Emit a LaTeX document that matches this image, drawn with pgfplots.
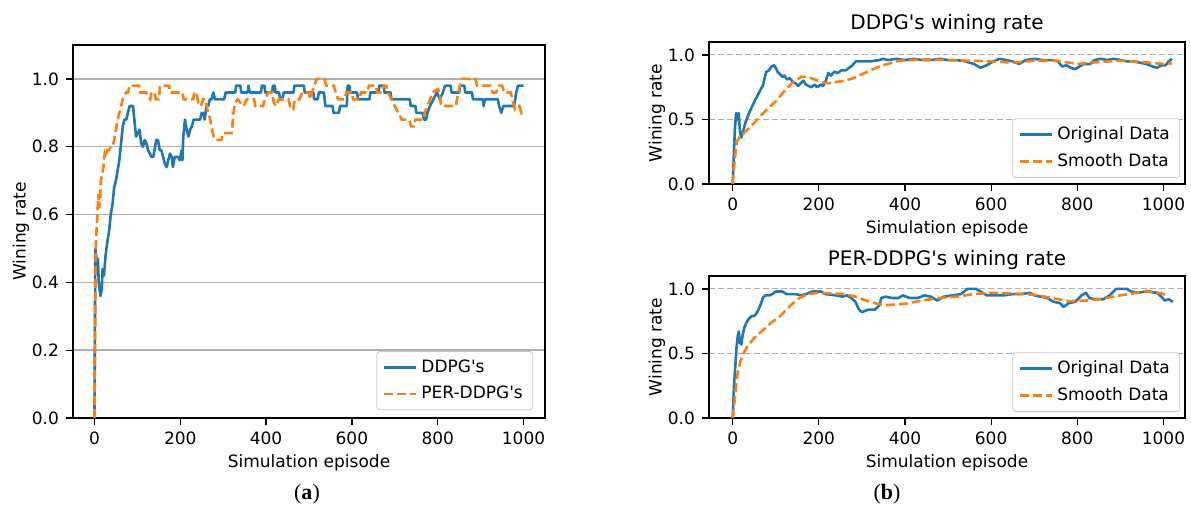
\documentclass[border=0pt]{standalone}
\usepackage{fontspec}
\setmainfont{DejaVu Sans}[Ligatures=TeXOff]
\newfontfamily\serifface{Liberation Serif}
\usepackage{pgfplots}
\pgfplotsset{compat=1.18}
\usepackage{pgfplotstable}
\definecolor{mplblue}{HTML}{1F77B4}
\definecolor{mplorange}{HTML}{FF7F0E}
\definecolor{gridgray}{HTML}{B0B0B0}

\pgfplotstableread{
x y
0 0
2 0.50
4 0.48
6 0.44
8 0.47
10 0.40
14 0.36
17 0.38
19 0.44
22 0.42
26 0.48
30 0.52
34 0.55
38 0.60
42 0.63
46 0.68
50 0.70
54 0.73
58 0.76
62 0.81
66 0.86
70 0.88
74 0.88
78 0.90
82 0.92
90 0.92
93 0.88
97 0.83
101 0.84
105 0.85
109 0.81
113 0.80
117 0.82
121 0.81
125 0.79
129 0.78
133 0.77
137 0.77
140 0.79
144 0.82
148 0.82
152 0.79
156 0.79
160 0.77
164 0.75
168 0.74
172 0.76
176 0.78
180 0.77
183 0.74
187 0.77
195 0.77
199 0.76
203 0.79
205 0.76
207 0.83
211 0.88
215 0.85
219 0.83
223 0.85
227 0.86
231 0.88
246 0.88
250 0.90
254 0.90
257 0.88
261 0.92
265 0.92
269 0.94
273 0.94
277 0.96
281 0.94
302 0.94
306 0.96
328 0.96
330 0.98
340 0.98
342 0.96
357 0.96
359 0.98
362 0.96
388 0.96
390 0.98
396 0.98
398 0.96
414 0.96
416 0.98
420 0.98
422 0.96
430 0.96
433 0.94
438 0.94
441 0.96
464 0.96
466 0.98
488 0.98
490 0.96
510 0.96
512 0.94
520 0.94
523 0.96
535 0.96
538 0.92
555 0.92
557 0.90
570 0.90
572 0.92
588 0.92
590 0.98
594 0.98
596 0.96
612 0.96
614 0.94
641 0.94
643 0.96
662 0.96
664 0.98
674 0.98
676 0.96
690 0.96
692 0.94
735 0.94
737 0.92
748 0.92
750 0.90
765 0.90
768 0.88
773 0.88
776 0.90
782 0.92
790 0.94
798 0.96
805 0.94
812 0.96
817 0.98
830 0.98
832 0.96
850 0.96
852 0.98
862 0.98
864 0.96
880 0.96
882 0.94
905 0.94
907 0.92
910 0.94
940 0.94
943 0.92
948 0.90
953 0.92
978 0.92
983 0.96
987 0.98
1000 0.98
}\ddpgleft

\pgfplotstableread{
x y
0 0
2 0.30
3 0.50
5 0.56
7 0.60
9 0.66
11 0.62
13 0.64
15 0.70
18 0.72
21 0.74
24 0.78
27 0.77
30 0.79
34 0.79
38 0.80
42 0.80
46 0.82
50 0.85
54 0.88
58 0.90
62 0.92
66 0.94
70 0.95
74 0.96
78 0.96
82 0.98
104 0.98
106 0.96
120 0.96
124 0.95
130 0.94
133 0.96
140 0.96
143 0.94
150 0.94
153 0.98
174 0.98
176 0.96
205 0.96
208 0.94
230 0.94
233 0.96
238 0.96
242 0.93
248 0.92
253 0.94
258 0.94
263 0.91
270 0.88
274 0.85
278 0.83
283 0.82
296 0.82
300 0.84
320 0.84
324 0.90
328 0.93
334 0.94
340 0.93
348 0.92
355 0.94
372 0.94
375 0.92
393 0.92
397 0.94
405 0.96
414 0.96
418 0.93
423 0.92
430 0.94
452 0.94
458 0.91
463 0.91
467 0.94
478 0.94
484 0.96
500 0.96
503 0.94
507 0.96
512 0.98
518 1.00
536 1.00
540 0.98
558 0.98
562 0.96
568 0.94
583 0.94
587 0.96
600 0.96
603 0.94
618 0.94
621 0.96
635 0.96
640 0.98
656 0.98
659 0.96
670 0.96
674 0.98
680 0.98
684 0.96
692 0.94
700 0.92
708 0.90
716 0.88
734 0.88
738 0.86
744 0.86
748 0.88
765 0.88
770 0.90
776 0.92
782 0.94
788 0.96
800 0.97
804 0.96
808 0.92
842 0.92
848 0.96
856 1.00
888 1.00
892 0.98
922 0.98
928 0.96
936 0.96
942 0.98
950 0.98
955 0.96
970 0.96
974 0.94
980 0.91
990 0.92
995 0.90
1000 0.91
}\perleft

\pgfplotstableread{
x y
0 0
5 0.42
8 0.55
11 0.50
14 0.55
17 0.40
20 0.36
25 0.42
30 0.48
38 0.55
45 0.60
52 0.65
60 0.70
66 0.74
70 0.76
74 0.82
78 0.87
84 0.88
90 0.91
96 0.92
100 0.90
104 0.87
110 0.85
116 0.83
120 0.84
126 0.81
132 0.82
140 0.79
146 0.78
152 0.76
158 0.78
164 0.80
170 0.77
176 0.76
182 0.75
190 0.77
196 0.75
204 0.77
210 0.76
216 0.80
222 0.86
228 0.84
236 0.87
244 0.86
252 0.88
262 0.88
270 0.90
278 0.92
286 0.95
300 0.95
320 0.95
340 0.96
350 0.97
360 0.96
380 0.97
400 0.96
420 0.97
440 0.96
460 0.96
480 0.97
500 0.96
520 0.96
540 0.95
560 0.93
575 0.90
590 0.92
605 0.95
620 0.97
635 0.96
650 0.95
665 0.93
680 0.96
700 0.97
720 0.96
740 0.96
755 0.95
765 0.91
775 0.92
785 0.90
795 0.89
805 0.91
815 0.93
830 0.93
840 0.96
855 0.97
870 0.96
885 0.97
900 0.96
915 0.95
930 0.95
945 0.94
960 0.93
975 0.91
985 0.90
995 0.92
1005 0.92
1012 0.95
1020 0.97
}\ddpgorig

\pgfplotstableread{
x y
0 0
5 0.20
10 0.33
15 0.36
25 0.39
40 0.44
60 0.51
80 0.58
100 0.64
120 0.72
140 0.79
160 0.83
175 0.83
190 0.81
205 0.79
220 0.78
240 0.79
260 0.80
280 0.82
300 0.85
320 0.88
340 0.91
360 0.93
380 0.95
400 0.96
450 0.965
500 0.96
550 0.955
600 0.95
650 0.94
700 0.955
750 0.955
800 0.93
850 0.945
900 0.955
950 0.945
1000 0.93
1020 0.935
}\ddpgsmooth

\pgfplotstableread{
x y
0 0
3 0.25
6 0.40
9 0.55
12 0.64
14 0.67
17 0.58
20 0.57
23 0.64
27 0.70
32 0.74
38 0.77
44 0.79
50 0.79
55 0.81
60 0.84
65 0.88
70 0.93
76 0.95
85 0.95
92 0.96
100 0.98
115 0.98
125 0.96
145 0.96
160 0.95
170 0.96
185 0.98
205 0.98
215 0.96
240 0.95
255 0.94
265 0.95
275 0.93
285 0.90
293 0.84
300 0.82
315 0.84
330 0.84
340 0.87
345 0.93
355 0.94
370 0.93
385 0.93
395 0.95
410 0.93
430 0.93
445 0.95
460 0.94
475 0.91
490 0.94
510 0.95
530 0.96
545 1.00
565 1.00
575 0.98
590 0.95
610 0.95
630 0.95
650 0.96
670 0.96
690 0.97
700 0.95
715 0.94
730 0.93
745 0.90
760 0.89
768 0.86
780 0.89
795 0.90
810 0.95
820 0.97
828 0.93
840 0.92
860 0.92
875 0.95
890 1.00
915 1.00
925 0.98
940 0.97
960 0.98
985 0.97
995 0.94
1003 0.91
1012 0.92
1022 0.90
}\perorig

\pgfplotstableread{
x y
0 0
5 0.15
10 0.32
18 0.44
25 0.50
35 0.56
50 0.62
70 0.68
90 0.74
110 0.79
125 0.84
140 0.89
155 0.93
175 0.96
200 0.97
230 0.965
260 0.96
285 0.94
310 0.91
335 0.885
360 0.875
400 0.885
440 0.91
480 0.93
520 0.94
560 0.96
600 0.97
650 0.965
700 0.955
740 0.93
780 0.905
820 0.91
860 0.925
900 0.95
940 0.97
960 0.985
980 0.975
1000 0.96
1010 0.95
}\persmooth

\pgfplotsset{
  base/.style={
    scale only axis,
    axis line style={line width=0.6pt},
    tick align=outside, tick pos=left,
    major tick length=3.5pt,
    every tick/.style={black, line width=0.6pt},
    ymin=0, ymax=1.1,
    xtick={0,200,...,1000},
    font=\fontsize{8.5}{10}\selectfont,
    tick label style={font=\fontsize{8.5}{10}\selectfont},
    label style={font=\fontsize{8.5}{10}\selectfont},
    /pgf/number format/assume math mode=true,
    /pgf/number format/1000 sep={},
    yticklabel style={/pgf/number format/.cd, fixed, fixed zerofill, precision=1},
    xlabel={Simulation episode},
    ylabel={Wining rate},
    xlabel style={yshift=2pt},
    ylabel style={yshift=-5.5pt},
    legend cell align=left,
    legend image code/.code={\draw[#1] (0pt,0pt) -- (16pt,0pt);},
    legend style={draw=gridgray!70, rounded corners=1.5pt, fill=white,
      font=\fontsize{8.5}{10}\selectfont, row sep=1.5pt,
      inner xsep=3pt, inner ysep=2pt},
  },
  blueline/.style={mplblue, line width=1.3pt, line join=round},
  orangeline/.style={mplorange, line width=1.3pt, dash pattern=on 4.5pt off 2pt},
}

\begin{document}
\begin{tikzpicture}
\useasboundingbox (0,0) rectangle (595.5pt,255.5pt);

\begin{axis}[base,
  at={(36.5pt,46.5pt)}, anchor=south west,
  width=236pt, height=186.5pt,
  xmin=-50, xmax=1050,
  ytick={0,0.2,...,1.0},
  ymajorgrids, grid style={gridgray, line width=0.7pt},
  legend style={at={(0.975,0.021)}, anchor=south east},
]
\addplot[blueline] table[x=x,y=y] {\ddpgleft};
\addlegendentry{DDPG's}
\addplot[orangeline] table[x=x,y=y] {\perleft};
\addlegendentry{PER-DDPG's}
\end{axis}

\begin{axis}[base,
  at={(354.5pt,163.5pt)}, anchor=south west,
  width=238pt, height=71pt,
  xmin=-55, xmax=1050,
  ytick={0,0.5,1.0},
  ymajorgrids, grid style={gridgray, line width=0.5pt, dash pattern=on 3pt off 1.5pt},
  title={DDPG's wining rate},
  title style={font=\fontsize{10}{12}\selectfont, yshift=-5.5pt},
  legend style={at={(0.99,0.042)}, anchor=south east},
]
\addplot[blueline] table[x=x,y=y] {\ddpgorig};
\addlegendentry{Original Data}
\addplot[orangeline] table[x=x,y=y] {\ddpgsmooth};
\addlegendentry{Smooth Data}
\end{axis}

\begin{axis}[base,
  at={(354.5pt,46.5pt)}, anchor=south west,
  width=238pt, height=71pt,
  xmin=-55, xmax=1050,
  ytick={0,0.5,1.0},
  ymajorgrids, grid style={gridgray, line width=0.5pt, dash pattern=on 3pt off 1.5pt},
  title={PER-DDPG's wining rate},
  title style={font=\fontsize{10}{12}\selectfont, yshift=-6.5pt},
  legend style={at={(0.99,0.042)}, anchor=south east},
]
\addplot[blueline] table[x=x,y=y] {\perorig};
\addlegendentry{Original Data}
\addplot[orangeline] table[x=x,y=y] {\persmooth};
\addlegendentry{Smooth Data}
\end{axis}

\node at (153.5pt,8.5pt) {\serifface\fontsize{11}{13}\selectfont(\textbf{a})};
\node at (443.5pt,8.5pt) {\serifface\fontsize{11}{13}\selectfont(\textbf{b})};
\end{tikzpicture}
\end{document}
